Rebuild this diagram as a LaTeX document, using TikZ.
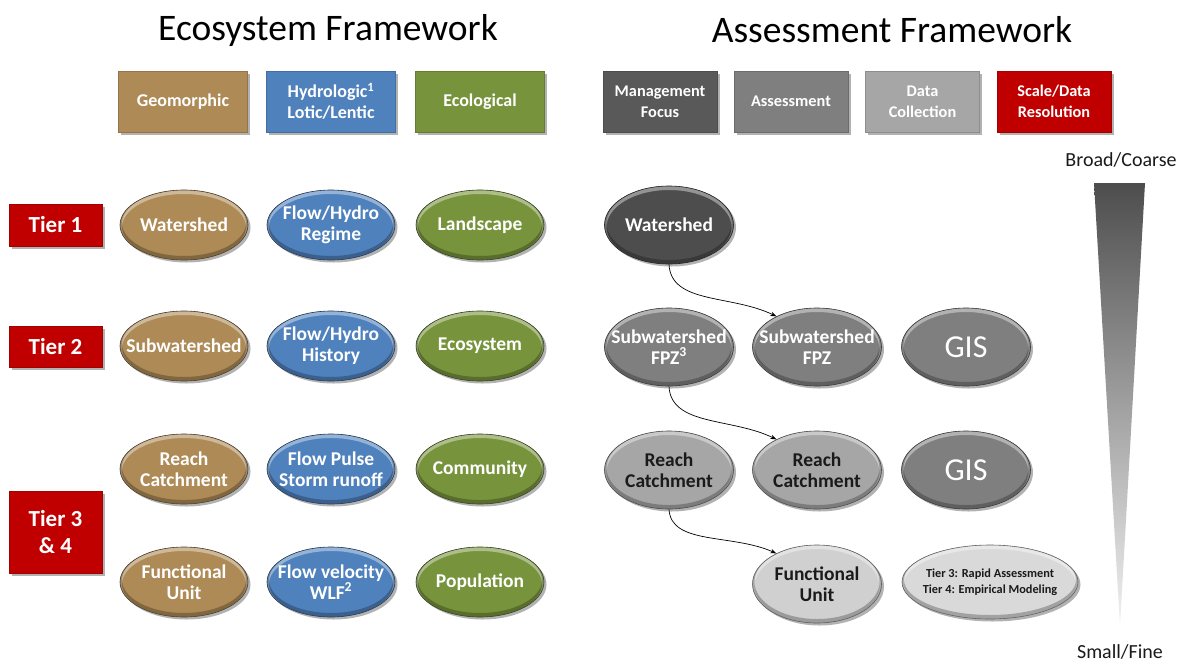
\documentclass[tikz,border=0pt]{standalone}
\usepackage{fontspec}
\setmainfont{Carlito}
\usetikzlibrary{shapes.geometric,shadows,arrows.meta}
\definecolor{geo}{HTML}{AD8A56}
\definecolor{hyd}{HTML}{4F81BD}
\definecolor{eco}{HTML}{77933C}
\definecolor{mg}{HTML}{595959}
\definecolor{dmg}{HTML}{4D4D4D}
\definecolor{as}{HTML}{7F7F7F}
\definecolor{dc}{HTML}{A6A6A6}
\definecolor{tred}{HTML}{C00000}
\definecolor{lg}{HTML}{D0D0D0}
\definecolor{llg}{HTML}{D9D9D9}
\definecolor{dtxt}{HTML}{1A1A1A}
\tikzset{
  shad/.style={drop shadow={shadow xshift=2.5pt, shadow yshift=-2.5pt, opacity=0.3, fill=black}},
  hbox/.style n args={3}{rectangle, minimum width=#1, minimum height=61pt, inner sep=0pt,
     fill=#2, draw=#2!85!black, line width=0.4pt, shad, text=white, align=center,
     font=\fontsize{#3}{21}\selectfont\bfseries},
  tierbox/.style={rectangle, minimum width=93pt, inner sep=0pt, fill=tred, draw=tred!85!black,
     line width=0.4pt, shad, text=white, align=center, font=\fontsize{23}{27}\selectfont\bfseries},
  bev/.style n args={3}{ellipse, inner xsep=-30pt, inner ysep=-12pt, minimum width=#1, minimum height=#2,
     fill=#3, draw=#3!45!black, line width=0.6pt, shad, align=center, text=white,
     font=\fontsize{19.5}{21}\selectfont\bfseries,
     path picture={
       \draw[white, opacity=0.4, line width=4pt]
        ([yshift=-2pt]path picture bounding box.center) ellipse [x radius=#1/2, y radius=#2/2];
       \draw[black, opacity=0.25, line width=4pt]
        ([yshift=2pt]path picture bounding box.center) ellipse [x radius=#1/2, y radius=#2/2];}},
  lell/.style={bev={128pt}{70pt}{#1}},
  rell/.style={bev={129pt}{78pt}{#1}},
  conn/.style={-{Stealth[length=6pt,width=4.5pt]}, line width=0.7pt, black}
}
\begin{document}
\begin{tikzpicture}[x=1pt,y=-1pt]
\useasboundingbox (0,0) rectangle (1180,662);

% titles
\node[font=\fontsize{37.5}{40}\selectfont] (t1) at (328,30) {Ecosystem Framework};
\node[font=\fontsize{37.5}{40}\selectfont] (t2) at (892,30) {Assessment Framework};

% header boxes
\node[hbox={129pt}{geo}{18}] (hgeo) at (183,101.5) {Geomorphic};
\node[hbox={129pt}{hyd}{18}] (hhyd) at (331,101.5) {Hydrologic\textsuperscript{1}\\Lotic/Lentic};
\node[hbox={129pt}{eco}{18}] (heco) at (480,101.5) {Ecological};
\node[hbox={114pt}{mg}{16.3}] (hmg) at (660,101.5) {Management\\Focus};
\node[hbox={114pt}{as}{16.3}] (has) at (791,101.5) {Assessment};
\node[hbox={114pt}{dc}{16.3}] (hdc) at (922.5,101.5) {Data\\Collection};
\node[hbox={114pt}{tred}{16.3}] (hsc) at (1054,101.5) {Scale/Data\\Resolution};

% tier boxes
\node[tierbox, minimum height=42pt] (tier1) at (55.5,225) {Tier 1};
\node[tierbox, minimum height=41pt] (tier2) at (55.5,347) {Tier 2};
\node[tierbox, minimum height=82pt] (tier3) at (55.5,532) {Tier 3\\\& 4};

% left ellipses
\node[lell=geo] (g1) at (184,225) {Watershed};
\node[lell=hyd] (h1) at (331,225) {Flow/Hydro\\Regime};
\node[lell=eco] (e1) at (480,225) {Landscape};
\node[lell=geo] (g2) at (184,346) {Subwatershed};
\node[lell=hyd] (h2) at (331,346) {Flow/Hydro\\History};
\node[lell=eco] (e2) at (480,346) {Ecosystem};
\node[lell=geo] (g3) at (184,469) {Reach\\Catchment};
\node[lell=hyd] (h3) at (331,469) {Flow Pulse\\Storm runoff};
\node[lell=eco] (e3) at (480,469) {Community};
\node[lell=geo] (g4) at (184,582) {Functional\\Unit};
\node[lell=hyd] (h4) at (331,582) {Flow velocity\\WLF\textsuperscript{2}};
\node[lell=eco] (e4) at (480,582) {Population};

% right ellipses
\node[rell=dmg] (m1) at (669,225) {Watershed};
\node[rell=as] (m2) at (669,347) {Subwatershed\\FPZ\textsuperscript{3}};
\node[rell=as] (a2) at (817,347) {Subwatershed\\FPZ};
\node[rell=as, font=\fontsize{32}{36}\selectfont] (d2) at (966,347) {GIS};
\node[rell=dc, text=dtxt] (m3) at (669,470) {Reach\\Catchment};
\node[rell=dc, text=dtxt] (a3) at (817,470) {Reach\\Catchment};
\node[rell=as, font=\fontsize{32}{36}\selectfont] (d3) at (966,470) {GIS};
\node[rell=lg, text=dtxt] (a4) at (817,584) {Functional\\Unit};
\node[bev={176pt}{74pt}{llg}, text=dtxt, font=\fontsize{12.3}{16}\selectfont\bfseries] (d4) at (990,582) {Tier 3: Rapid Assessment\\Tier 4: Empirical Modeling};

% connectors
\draw[conn] (m1.south) .. controls +(2,40) and +(-45,-22) .. (a2.143);
\draw[conn] (m2.south) .. controls +(2,40) and +(-45,-22) .. (a3.143);
\draw[conn] (m3.south) .. controls +(2,36) and +(-45,-20) .. (a4.143);

% scale triangle
\node[font=\fontsize{20}{24}\selectfont, text=dtxt] (broad) at (1121,160) {Broad/Coarse};
\node[font=\fontsize{20}{24}\selectfont, text=dtxt] (small) at (1120,652) {Small/Fine};
\shade[top color=dmg, bottom color=white!95!black] (1094,183) -- (1145,183) -- (1120,626) -- cycle;
\end{tikzpicture}
\end{document}
